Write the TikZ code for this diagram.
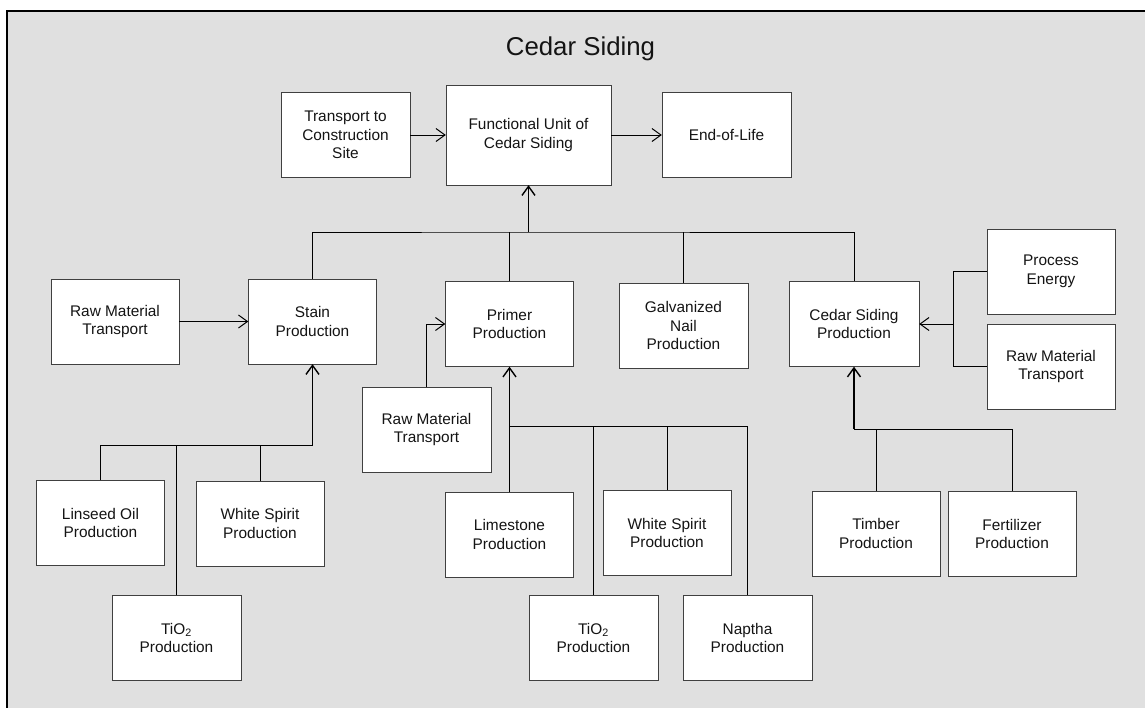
\documentclass[tikz,border=0pt]{standalone}
\usepackage{fontspec}
\setmainfont{Liberation Sans}
\usetikzlibrary{arrows.meta}
\definecolor{panel}{RGB}{224,224,224}
\definecolor{ink}{RGB}{20,20,20}

\begin{document}
\begin{tikzpicture}[x=1pt,y=-1pt,>={Straight Barb[length=9pt,width=13pt]}]
      \tikzstyle{proc}=[draw=black!75,fill=white,minimum width=128pt,
			minimum height=85pt,inner sep=0pt,align=center,text=ink,
			font=\fontsize{15.4}{18.7}\selectfont]
      \tikzstyle{link}=[line width=1pt,black]
      \tikzstyle{feed}=[line width=1.4pt,black,->]
      \useasboundingbox (0,0) rectangle (1145,707);
      \draw[fill=panel,line width=1.2pt] (7,11) rectangle (1170,730);
      \node (title) at (580.5,55) [anchor=base,text=ink,
	  font=\fontsize{25.8}{30}\selectfont] {Cedar Siding};
      \node (trans) at (345.5,135) [proc,minimum width=129pt]
	  {Transport to\\Construction\\Site};
      \node (fu) at (528.5,135) [proc,minimum width=165pt,minimum height=100pt]
	  {Functional Unit of\\Cedar Siding};
      \node (eol) at (726.5,135) [proc,minimum width=129pt] {End-of-Life};
      \node (rawA) at (115,321.5) [proc] {Raw Material\\Transport};
      \node (stain) at (312.5,321.5) [proc] {Stain\\Production};
      \node (primer) at (509.5,324) [proc] {Primer\\Production};
      \node (nail) at (683.5,325.5) [proc,minimum width=129pt]
	  {Galvanized\\Nail\\Production};
      \node (siding) at (854,324) [proc,minimum width=130pt]
	  {Cedar Siding\\Production};
      \node (energy) at (1051,271.5) [proc] {Process\\Energy};
      \node (rawC) at (1051,366.5) [proc] {Raw Material\\Transport};
      \node (rawB) at (426.5,429.5) [proc,minimum width=129pt]
	  {Raw Material\\Transport};
      \node (linseed) at (100.5,523) [proc] {Linseed Oil\\Production};
      \node (spiritA) at (260,523.5) [proc] {White Spirit\\Production};
      \node (tioA) at (176.5,638) [proc,minimum width=129pt]
	  {TiO\textsubscript{2}\\Production};
      \node (lime) at (509.5,534.5) [proc] {Limestone\\Production};
      \node (spiritB) at (667,533) [proc] {White Spirit\\Production};
      \node (tioB) at (593.5,638) [proc,minimum width=129pt]
	  {TiO\textsubscript{2}\\Production};
      \node (naptha) at (747.5,638) [proc,minimum width=129pt]
	  {Naptha\\Production};
      \node (timber) at (876,533.5) [proc] {Timber\\Production};
      \node (fert) at (1012,534) [proc] {Fertilizer\\Production};
      \coordinate (topbus) at (528.5,232);
      \coordinate (stainbus) at (312.5,445);
      \coordinate (primerbus) at (509.5,426);
      \coordinate (sidingbus) at (854,429);
      \coordinate (sidingfeed) at (953,324);
      \draw[link,->] (trans) -- (fu);
      \draw[link,->] (fu) -- (eol);
      \draw[link] (stain.north) |- (topbus) -| (siding.north);
      \draw[link] (primer.north) -- (primer.north |- topbus);
      \draw[link] (nail.north) -- (nail.north |- topbus);
      \draw[feed] (topbus) -- (fu.south);
      \draw[link,->] (rawA) -- (stain);
      \draw[link,->] (rawB.north) |- (primer.west);
      \draw[link] (linseed.north) |- (stainbus);
      \draw[link] (tioA.north) -- (tioA.north |- stainbus);
      \draw[link] (spiritA.north) -- (spiritA.north |- stainbus);
      \draw[feed] (stainbus) -- (stain.south);
      \draw[link] (lime.north) -- (primerbus) -| (naptha.north);
      \draw[link] (tioB.north) -- (tioB.north |- primerbus);
      \draw[link] (spiritB.north) -- (spiritB.north |- primerbus);
      \draw[feed] (primerbus) -- (primer.south);
      \draw[link] (sidingbus) -| (fert.north);
      \draw[link] (timber.north) -- (timber.north |- sidingbus);
      \draw[feed] (sidingbus) -- (siding.south);
      \draw[link] (energy.west) -| (sidingfeed) |- (rawC.west);
      \draw[link,->] (sidingfeed) -- (siding.east);
\end{tikzpicture}
\end{document}
